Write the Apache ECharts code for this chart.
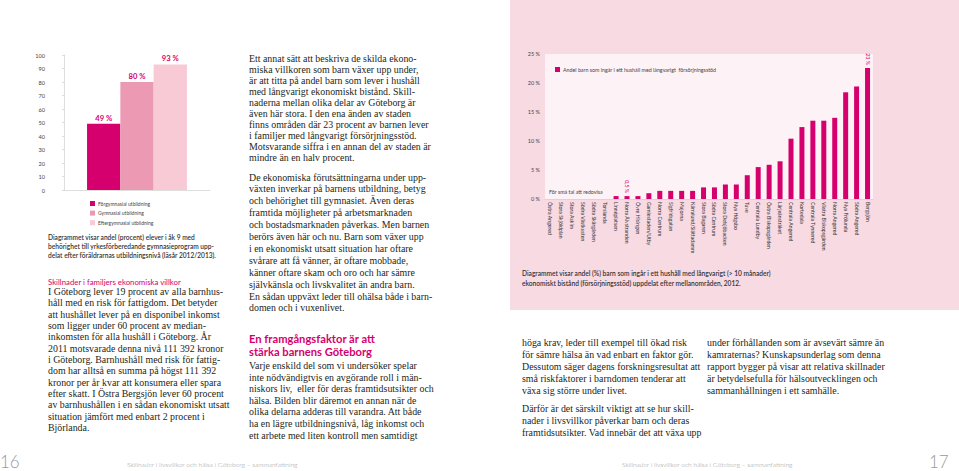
<!DOCTYPE html>
<html><head><meta charset="utf-8">
<script src="https://cdn.jsdelivr.net/npm/echarts@6/dist/echarts.min.js"></script>
<style>
html,body{margin:0;padding:0}
body{width:959px;height:471px;position:relative;overflow:hidden;background:#fff;font-family:'Liberation Serif',serif;color:#231f20}
#pink{position:absolute;left:510px;top:0;width:449px;height:310px;background:#f8dae3}
#chart{position:absolute;left:0;top:0;width:959px;height:471px}
.b{position:absolute;white-space:nowrap;font-family:'Liberation Serif',serif;font-size:9.9px;line-height:11.4px;color:#231f20}
.h{position:absolute;white-space:nowrap;font-family:Lato,sans-serif;color:#d5006d}
.cap{position:absolute;white-space:nowrap;font-family:Lato,sans-serif;font-size:6.6px;line-height:9.2px;color:#333;font-weight:600}
.f{position:absolute;white-space:nowrap;font-family:Lato,sans-serif;color:#9a9a9a;font-weight:300}
</style></head>
<body>
<div id="pink"></div>
<div id="chart"></div>

<div class="cap" style="left:48px;top:233px">Diagrammet visar andel (procent) elever i åk 9 med<br>behörighet till yrkesförberedande gymnasieprogram upp-<br>delat efter föräldrarnas utbildningsnivå (läsår 2012/2013).</div>

<div class="h" style="left:48px;top:277px;font-size:7.8px;line-height:10px">Skillnader i familjers ekonomiska villkor</div>
<div class="b" style="left:48px;top:286px;line-height:11.33px">I Göteborg lever 19 procent av alla barnhus-<br>håll med en risk för fattigdom. Det betyder<br>att hushållet lever på en disponibel inkomst<br>som ligger under 60 procent av median-<br>inkomsten för alla hushåll i Göteborg. År<br>2011 motsvarade denna nivå 111 392 kronor<br>i Göteborg. Barnhushåll med risk för fattig-<br>dom har alltså en summa på högst 111 392<br>kronor per år kvar att konsumera eller spara<br>efter skatt. I Östra Bergsjön lever 60 procent<br>av barnhushållen i en sådan ekonomiskt utsatt<br>situation jämfört med enbart 2 procent i<br>Björlanda.</div>

<div class="b" style="left:249px;top:52.5px;line-height:11px">Ett annat sätt att beskriva de skilda ekono-<br>miska villkoren som barn växer upp under,<br>är att titta på andel barn som lever i hushåll<br>med långvarigt ekonomiskt bistånd. Skill-<br>naderna mellan olika delar av Göteborg är<br>även här stora. I den ena änden av staden<br>finns områden där 23 procent av barnen lever<br>i familjer med långvarigt försörjningsstöd.<br>Motsvarande siffra i en annan del av staden är<br>mindre än en halv procent.</div>

<div class="b" style="left:249px;top:171.5px;line-height:11.9px">De ekonomiska förutsättningarna under upp-<br>växten inverkar på barnens utbildning, betyg<br>och behörighet till gymnasiet. Även deras<br>framtida möjligheter på arbetsmarknaden<br>och bostadsmarknaden påverkas. Men barnen<br>berörs även här och nu. Barn som växer upp<br>i en ekonomiskt utsatt situation har oftare<br>svårare att få vänner, är oftare mobbade,<br>känner oftare skam och oro och har sämre<br>självkänsla och livskvalitet än andra barn.<br>En sådan uppväxt leder till ohälsa både i barn-<br>domen och i vuxenlivet.</div>

<div class="h" style="left:249px;top:331.5px;font-size:11.2px;line-height:13px;font-weight:700">En framgångsfaktor är att<br>stärka barnens Göteborg</div>
<div class="b" style="left:249px;top:360px;line-height:11.6px">Varje enskild del som vi undersöker spelar<br>inte nödvändigtvis en avgörande roll i män-<br>niskors liv,&nbsp; eller för deras framtidsutsikter och<br>hälsa. Bilden blir däremot en annan när de<br>olika delarna adderas till varandra. Att både<br>ha en lägre utbildningsnivå, låg inkomst och<br>ett arbete med liten kontroll men samtidigt</div>

<div class="cap" style="left:522px;top:267.5px;font-size:6.6px;line-height:10px">Diagrammet visar andel (%) barn som ingår i ett hushåll med långvarigt (&gt; 10 månader)<br>ekonomiskt bistånd (försörjningsstöd) uppdelat efter mellanområden, 2012.</div>

<div class="b" style="left:522px;top:337px;line-height:12px">höga krav, leder till exempel till ökad risk<br>för sämre hälsa än vad enbart en faktor gör.<br>Dessutom säger dagens forskningsresultat att<br>små riskfaktorer i barndomen tenderar att<br>växa sig större under livet.</div>
<div class="b" style="left:522px;top:403px;line-height:12px">Därför är det särskilt viktigt att se hur skill-<br>nader i livsvillkor påverkar barn och deras<br>framtidsutsikter. Vad innebär det att växa upp</div>
<div class="b" style="left:707px;top:337px;line-height:12px">under förhållanden som är avsevärt sämre än<br>kamraternas? Kunskapsunderlag som denna<br>rapport bygger på visar att relativa skillnader<br>är betydelsefulla för hälsoutvecklingen och<br>sammanhållningen i ett samhälle.</div>

<div class="f" style="left:0px;top:452px;font-size:17px;line-height:20px">16</div>
<div class="f" style="left:127px;top:459px;font-size:6.6px;line-height:10px">Skillnader i livsvillkor och hälsa i Göteborg – sammanfattning</div>
<div class="f" style="left:622px;top:459px;font-size:6.6px;line-height:10px">Skillnader i livsvillkor och hälsa i Göteborg – sammanfattning</div>
<div class="f" style="left:929px;top:452px;font-size:17px;line-height:20px">17</div>

<script>
// ---- Chart 1: eligibility by parents' education ----
const eduCategory = ['Andel elever'];
const eduSeries = ['Förgymnasial utbildning', 'Gymnasial utbildning', 'Eftergymnasial utbildning'];
const eduValues = [49, 80, 93];
const eduTicks = { min: 0, max: 100, step: 10 };

// ---- Chart 2: children in households with long-term assistance ----
const areaSeriesName = 'Andel barn som ingår i ett hushåll med långvarigt  försörjningsstöd';
const areaNames = ['Östra Angered', 'Stora Skjöldplan', 'Stora Askim', 'Södra Västkusten', 'Södra Skärgården',
  'Torslanda', 'Linnéplatsen', 'Norra Älvstranden', 'Övre Hisingen', 'Gamlestaden/Utby', 'Norra Centrum',
  'Sigfridsgatan', 'Majorna', 'Kärralund/Slättadamm', 'Stora Bagaren', 'Södra Centrum', 'Stora Delsjöbacken',
  'Nya Högsbo', 'Tuve', 'Centrala Lundby', 'Östra Biskopsgården', 'Lärjeånstråket', 'Centrala Angered',
  'Kortedala', 'Centrala Tynnered', 'Västra Biskopsgården', 'Norra Angered', 'Nya Frölunda', 'Södra Angered', 'Bergsjön'];
const areaValues = [null, null, null, null, null, null, 0.5, 0.5, 0.5, 1.0, 1.4, 1.4, 1.4, 1.4, 2.0, 2.0, 2.5, 2.5,
  4.1, 5.5, 5.9, 6.5, 10.4, 12.4, 13.5, 13.5, 14.0, 18.4, 19.4, 22.6];
const areaValueLabels = ['', '', '', '', '', '', '', '0,5 %', '', '', '', '', '', '', '', '', '', '', '', '', '', '', '', '', '', '', '', '', '', '23 %'];
const areaTicks = { min: 0, max: 25, step: 5 };
const smallNote = 'För små tal att redovisa';

// styles (kept apart from data)
const eduColors = ['#d5006d', '#ec9ab3', '#f7cad6'];
const magenta = '#d5006d';

const chart = echarts.init(document.getElementById('chart'), null, { renderer: 'svg' });
const font = 'Lato, sans-serif';

const eduBarSeries = eduSeries.map((name, i) => ({
  type: 'bar', name: name, xAxisIndex: 0, yAxisIndex: 0,
  data: [eduValues[i]], barWidth: 33.3, barGap: '0%',
  itemStyle: { color: eduColors[i] },
  label: { show: true, position: 'top', distance: 2, formatter: '{c} %', color: magenta,
    fontFamily: font, fontWeight: 'bold', fontSize: 7.6 }
}));

chart.setOption({
  animation: false,
  textStyle: { fontFamily: font },
  grid: [
    { left: 64, top: 55, width: 146, height: 135 },
    { left: 545, top: 54, width: 328, height: 145, show: true, backgroundColor: '#fdf2f6', borderWidth: 0 }
  ],
  legend: [
    { data: eduSeries, orient: 'vertical', left: 85, top: 196, itemWidth: 5, itemHeight: 5, itemGap: 4.6,
      icon: 'rect', textStyle: { fontSize: 5, color: '#444', fontFamily: font, padding: [0, 0, 0, -2] } },
    { data: [areaSeriesName], left: 550, top: 62, itemWidth: 5, itemHeight: 5, icon: 'rect',
      textStyle: { fontSize: 5.3, color: '#444', fontFamily: font, padding: [0, 0, 0, -2] } }
  ],
  xAxis: [
    { type: 'category', gridIndex: 0, data: eduCategory,
      axisLine: { lineStyle: { color: '#c8c8c8', width: 0.6 } }, axisTick: { show: false }, axisLabel: { show: false } },
    { type: 'category', gridIndex: 1, data: areaNames,
      axisLine: { lineStyle: { color: '#ccc', width: 0.6 } }, axisTick: { show: false },
      axisLabel: { interval: 0, rotate: -90, fontSize: 5.2, color: '#333', margin: 3, fontFamily: font } }
  ],
  yAxis: [
    { type: 'value', gridIndex: 0, min: eduTicks.min, max: eduTicks.max, interval: eduTicks.step,
      axisLine: { show: true, lineStyle: { color: '#c8c8c8', width: 0.6 } },
      axisTick: { show: true, length: 2, lineStyle: { color: '#c8c8c8', width: 0.6 } },
      splitLine: { show: false },
      axisLabel: { fontSize: 5.6, color: '#444', margin: 19, fontFamily: font } },
    { type: 'value', gridIndex: 1, min: areaTicks.min, max: areaTicks.max, interval: areaTicks.step,
      axisLine: { show: false }, axisTick: { show: false }, splitLine: { show: false },
      axisLabel: { fontSize: 5.5, color: '#444', margin: 5, formatter: '{value} %', fontFamily: font } }
  ],
  graphic: [
    { type: 'text', left: 549, top: 189, style: { text: smallNote, fontSize: 5.3, fill: '#444', fontFamily: font } }
  ],
  series: eduBarSeries.concat([{
    type: 'bar', name: areaSeriesName, xAxisIndex: 1, yAxisIndex: 1,
    data: areaValues, barWidth: 5, itemStyle: { color: magenta },
    label: { show: true, position: 'top', rotate: -90, align: 'right', verticalAlign: 'middle', distance: 3,
      color: magenta, fontSize: 5.3, fontFamily: font,
      formatter: p => areaValueLabels[p.dataIndex] }
  }])
});
</script>
</body></html>
